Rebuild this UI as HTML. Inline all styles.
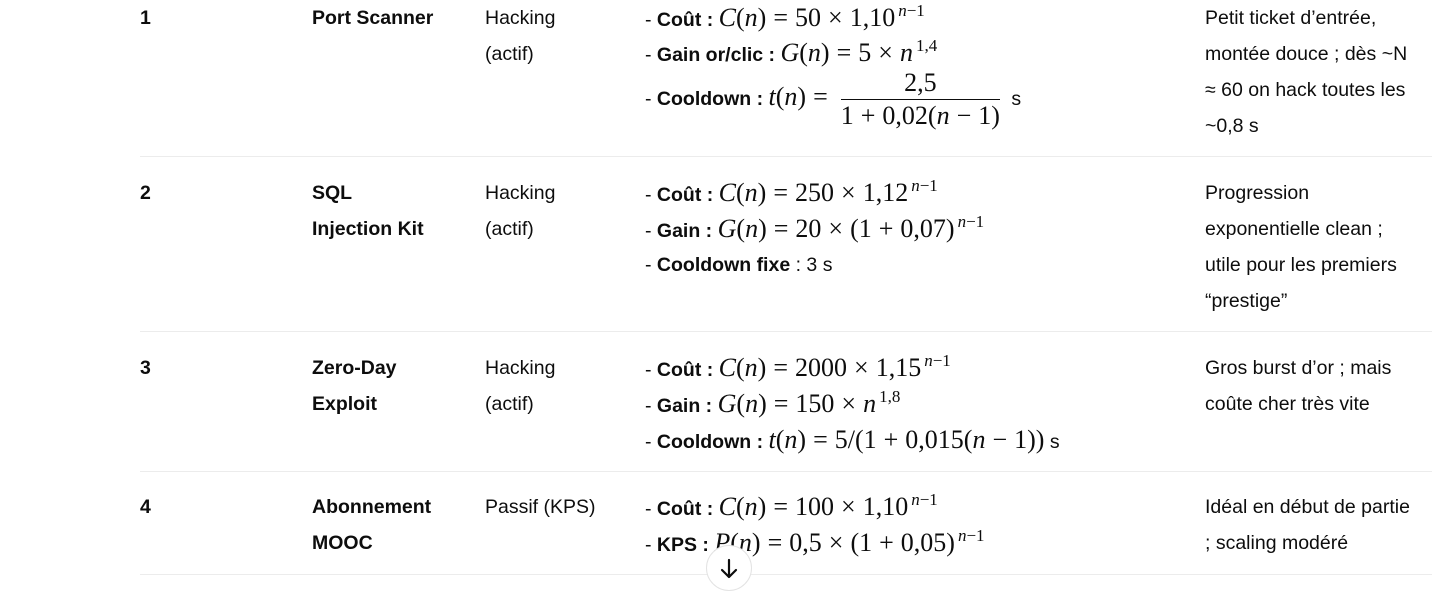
<!DOCTYPE html>
<html><head><meta charset="utf-8"><style>
body{margin:0;width:1446px;height:597px;background:#fff;position:relative;overflow:hidden;font-family:"Liberation Sans",sans-serif;color:#0d0d0d;font-size:19.5px}
.t{position:absolute;line-height:36px;white-space:nowrap}
.b{font-weight:bold}
.m{font-family:"Liberation Serif",serif;font-size:26px}
i{font-family:"Liberation Serif",serif}
o{margin:0 7px}
sup{font-size:17px;vertical-align:10px;line-height:0;margin-left:3px}
.sep{position:absolute;left:140px;width:1292px;height:1px;background:#ececec}
.fr{display:inline-block;vertical-align:middle;text-align:center;line-height:32px;margin:0 6px}
.fr span{display:block}
.fr .n{border-bottom:1.5px solid #0d0d0d;padding:0 4px}
</style></head><body>
<!-- row 1 -->
<div class="t b" style="left:140px;top:0">1</div>
<div class="t b" style="left:312px;top:0">Port Scanner</div>
<div class="t" style="left:485px;top:0">Hacking<br>(actif)</div>
<div class="t" style="left:645px;top:0">- <b>Coût :</b> <span class="m"><i>C</i>(<i>n</i>)<o>=</o>50<o>×</o>1,10<sup><i>n</i>−1</sup></span></div>
<div class="t" style="left:645px;top:35px">- <b>Gain or/clic :</b> <span class="m"><i>G</i>(<i>n</i>)<o>=</o>5<o>×</o><i>n</i><sup>1,4</sup></span></div>
<div class="t" style="left:645px;top:65px;line-height:64px">- <b>Cooldown :</b> <span class="m"><i>t</i>(<i>n</i>)<o>=</o><span class="fr"><span class="n">2,5</span><span>1<o>+</o>0,02(<i>n</i><o>−</o>1)</span></span></span> s</div>
<div class="t" style="left:1205px;top:0">Petit ticket d’entrée,<br>montée douce ; dès ~N<br>≈ 60 on hack toutes les<br>~0,8 s</div>
<div class="sep" style="top:156px"></div>
<!-- row 2 -->
<div class="t b" style="left:140px;top:175px">2</div>
<div class="t b" style="left:312px;top:175px">SQL<br>Injection Kit</div>
<div class="t" style="left:485px;top:175px">Hacking<br>(actif)</div>
<div class="t" style="left:645px;top:175px">- <b>Coût :</b> <span class="m"><i>C</i>(<i>n</i>)<o>=</o>250<o>×</o>1,12<sup><i>n</i>−1</sup></span></div>
<div class="t" style="left:645px;top:211px">- <b>Gain :</b> <span class="m"><i>G</i>(<i>n</i>)<o>=</o>20<o>×</o>(1<o>+</o>0,07)<sup><i>n</i>−1</sup></span></div>
<div class="t" style="left:645px;top:247px">- <b>Cooldown fixe</b> : 3 s</div>
<div class="t" style="left:1205px;top:175px">Progression<br>exponentielle clean ;<br>utile pour les premiers<br>“prestige”</div>
<div class="sep" style="top:331px"></div>
<!-- row 3 -->
<div class="t b" style="left:140px;top:350px">3</div>
<div class="t b" style="left:312px;top:350px">Zero-Day<br>Exploit</div>
<div class="t" style="left:485px;top:350px">Hacking<br>(actif)</div>
<div class="t" style="left:645px;top:350px">- <b>Coût :</b> <span class="m"><i>C</i>(<i>n</i>)<o>=</o>2000<o>×</o>1,15<sup><i>n</i>−1</sup></span></div>
<div class="t" style="left:645px;top:386px">- <b>Gain :</b> <span class="m"><i>G</i>(<i>n</i>)<o>=</o>150<o>×</o><i>n</i><sup>1,8</sup></span></div>
<div class="t" style="left:645px;top:422px">- <b>Cooldown :</b> <span class="m"><i>t</i>(<i>n</i>)<o>=</o>5/(1<o>+</o>0,015(<i>n</i><o>−</o>1))</span> s</div>
<div class="t" style="left:1205px;top:350px">Gros burst d’or ; mais<br>coûte cher très vite</div>
<div class="sep" style="top:471px"></div>
<!-- row 4 -->
<div class="t b" style="left:140px;top:489px">4</div>
<div class="t b" style="left:312px;top:489px">Abonnement<br>MOOC</div>
<div class="t" style="left:485px;top:489px">Passif (KPS)</div>
<div class="t" style="left:645px;top:489px">- <b>Coût :</b> <span class="m"><i>C</i>(<i>n</i>)<o>=</o>100<o>×</o>1,10<sup><i>n</i>−1</sup></span></div>
<div class="t" style="left:645px;top:525px">- <b>KPS :</b> <span class="m"><i>P</i>(<i>n</i>)<o>=</o>0,5<o>×</o>(1<o>+</o>0,05)<sup><i>n</i>−1</sup></span></div>
<div class="t" style="left:1205px;top:489px">Idéal en début de partie<br>; scaling modéré</div>
<div class="sep" style="top:574px"></div>
<div style="position:absolute;left:706px;top:545px;width:46px;height:46px;border-radius:50%;background:#fff;border:1px solid #e3e3e3;box-sizing:border-box;text-align:center;line-height:44px;font-size:24px;">
<svg width="20" height="22" viewBox="0 0 20 22" style="vertical-align:middle"><path d="M10 2V19M3 12l7 7 7-7" stroke="#0d0d0d" stroke-width="2.2" fill="none" stroke-linecap="round" stroke-linejoin="round"/></svg></div>
</body></html>
